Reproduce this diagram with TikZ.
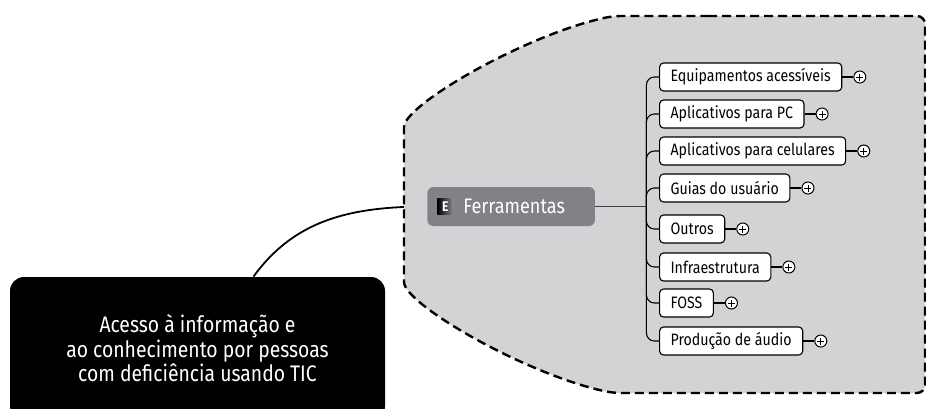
\documentclass[tikz,border=0pt]{standalone}
\usepackage{fontspec}
\setmainfont{Fira Sans}[FakeStretch=0.86]
\usetikzlibrary{positioning,backgrounds}

\definecolor{regiongray}{HTML}{D1D3D4}
\definecolor{topicgray}{HTML}{808285}

\begin{document}
\begin{tikzpicture}[x=1pt, y=-1pt, thick,
    root/.style = {fill=black, text=white, rounded corners=14pt, minimum width=375pt, minimum height=143pt, align=center, font=\fontsize{22.5}{24.5}\selectfont},
    topic/.style = {fill=topicgray, text=white, rounded corners=6pt, minimum height=39pt, inner sep=0pt, anchor=west, font=\fontsize{21}{24}\selectfont},
    eicon/.style = {left color=black, right color=black!45, text=white, minimum size=16pt, inner sep=0pt, font=\bfseries\fontsize{14}{14}\selectfont},
    leaf/.style = {draw, fill=white, rounded corners=4pt, line width=1.1pt, minimum height=28pt, inner xsep=11pt, anchor=west, font=\fontsize{16.5}{19}\selectfont},
    plus/.style = {draw, circle, fill=white, line width=1pt, minimum size=12pt, inner sep=0pt,
        path picture={\draw[line width=0.9pt] ([xshift=-3.5pt]path picture bounding box.center) -- ([xshift=3.5pt]path picture bounding box.center);
                      \draw[line width=0.9pt] ([yshift=-3.5pt]path picture bounding box.center) -- ([yshift=3.5pt]path picture bounding box.center);}},
    link/.style = {line width=1.8pt},
    branch/.style = {line width=1.1pt, rounded corners=8pt},
    region/.style = {fill=regiongray, line width=2.4pt, dash pattern=on 9pt off 5pt, rounded corners=8pt}]
    \useasboundingbox (0,0) rectangle (926,408);

    \node[root] (root) at (197.5,348.5) {Acesso à informação e\\ao conhecimento por pessoas\\com deficiência usando TIC};
    \node[topic] (fer) at (427,206.5) {\hspace*{36pt}Ferramentas\hspace*{30pt}};
    \node[eicon, right=10pt of fer.west] (ico) {E};
    \coordinate[right=51pt of fer.east] (hub);

    \node[leaf] (c1) at (659,77) {Equipamentos acessíveis};
    \node[leaf] (c2) at (659,114) {Aplicativos para PC};
    \node[leaf] (c3) at (659,151) {Aplicativos para celulares};
    \node[leaf] (c4) at (659,188) {Guias do usuário};
    \node[leaf] (c5) at (659,229) {Outros};
    \node[leaf] (c6) at (659,267) {Infraestrutura};
    \node[leaf] (c7) at (659,303) {FOSS};
    \node[leaf] (c8) at (659,341) {Produção de áudio};

    \node[plus, right=11pt of c1] (p1) {};
    \node[plus, right=11pt of c2] (p2) {};
    \node[plus, right=11pt of c3] (p3) {};
    \node[plus, right=11pt of c4] (p4) {};
    \node[plus, right=11pt of c5] (p5) {};
    \node[plus, right=11pt of c6] (p6) {};
    \node[plus, right=11pt of c7] (p7) {};
    \node[plus, right=11pt of c8] (p8) {};

    % the region sits behind the nodes
    \begin{scope}[on background layer]
    \draw[link] ([xshift=56pt]root.north) .. controls +(40,-55) and +(-80,0) .. (fer.west);
    \draw[region] (700,16) -- (925,16) -- (925,393) -- (613,393) .. controls (525,374) and (404,304) .. (404,274) -- (404,135) .. controls (404,105) and (525,35) .. (613,16) -- cycle;
    \end{scope}

    \draw[link, black!75] (fer.east) -- (hub);
    \draw[branch] (hub) |- (c1);
    \draw[branch] (hub) |- (c2);
    \draw[branch] (hub) |- (c3);
    \draw[branch] (hub) |- (c4);
    \draw[branch] (hub) |- (c5);
    \draw[branch] (hub) |- (c6);
    \draw[branch] (hub) |- (c7);
    \draw[branch] (hub) |- (c8);

    \draw[link] (c1) -- (p1);
    \draw[link] (c2) -- (p2);
    \draw[link] (c3) -- (p3);
    \draw[link] (c4) -- (p4);
    \draw[link] (c5) -- (p5);
    \draw[link] (c6) -- (p6);
    \draw[link] (c7) -- (p7);
    \draw[link] (c8) -- (p8);
\end{tikzpicture}
\end{document}
